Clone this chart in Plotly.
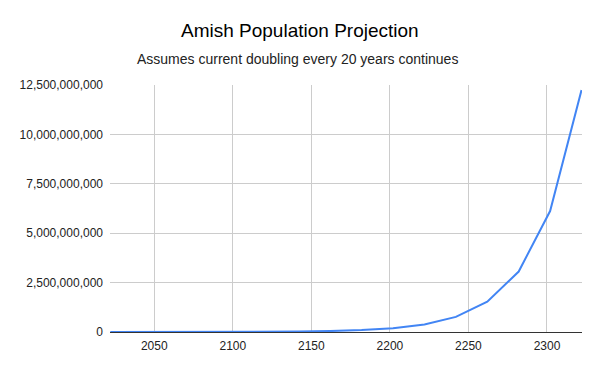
import plotly.graph_objects as go

years = [2022, 2042, 2062, 2082, 2102, 2122, 2142, 2162, 2182, 2202,
         2222, 2242, 2262, 2282, 2302, 2322]
population = [373620, 747240, 1494480, 2988960, 5977920, 11955840,
              23911680, 47823360, 95646720, 191293440, 382586880,
              765173760, 1530347520, 3060695040, 6121390080, 12242780160]

title_text = "Amish Population Projection"
subtitle_text = "Assumes current doubling every 20 years continues"

L, R, T, B = 110, 18, 85, 39
W, H = 600, 371
ph = H - T - B
pw = W - L - R

def py(px):
    return (H - B - px) / ph

def pxx(px):
    return (px - L) / pw

fig = go.Figure()
fig.add_trace(go.Scatter(
    x=years, y=population, mode="lines",
    line=dict(color="#4285F4", width=2),
    hoverinfo="x+y", showlegend=False,
))

fig.update_layout(
    width=W, height=H,
    margin=dict(l=L, r=R, t=T, b=B, pad=0),
    paper_bgcolor="white", plot_bgcolor="white",
    font=dict(family="Arial, Liberation Sans, sans-serif", size=12, color="#222222"),
    xaxis=dict(
        range=[2021.8, 2322.3], tickmode="linear", tick0=2050, dtick=50,
        showgrid=True, gridcolor="#cccccc", gridwidth=1,
        zeroline=False, showline=False, ticks="", ticklabelstandoff=5,
        tickfont=dict(size=12, color="#222222"),
    ),
    yaxis=dict(
        range=[0, 12.5e9], tickmode="linear", tick0=0, dtick=2.5e9,
        tickformat=",d", showgrid=True, gridcolor="#cccccc", gridwidth=1,
        zeroline=True, zerolinecolor="#333333", zerolinewidth=1,
        showline=False, ticks="", ticklabelstandoff=6,
        tickfont=dict(size=12, color="#222222"),
    ),
    annotations=[
        dict(text=title_text, x=pxx(300), y=py(31), xref="paper", yref="paper",
             showarrow=False, xanchor="center", yanchor="middle",
             font=dict(size=19, color="#000000", family="Arial, Liberation Sans, sans-serif")),
        dict(text=subtitle_text, x=pxx(297), y=py(59), xref="paper", yref="paper",
             showarrow=False, xanchor="center", yanchor="middle",
             font=dict(size=14, color="#222222", family="Arial, Liberation Sans, sans-serif")),
    ],
)

fig.write_html("out.html")
